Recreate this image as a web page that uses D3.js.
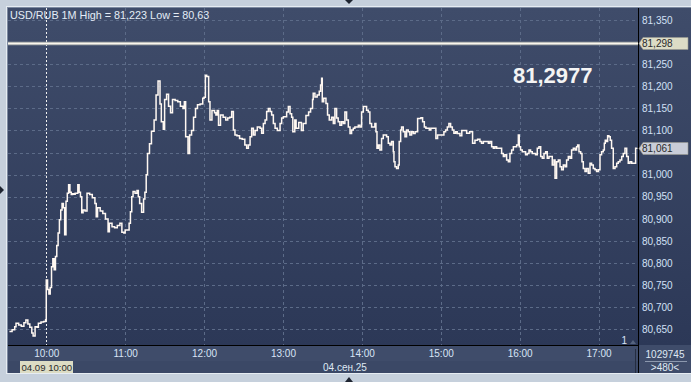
<!DOCTYPE html>
<html><head><meta charset="utf-8">
<script src="https://cdn.jsdelivr.net/npm/d3@7"></script>
<style>html,body{margin:0;padding:0;background:#c6d0dc;}svg{display:block;font-family:"Liberation Sans",Arial,sans-serif;}</style>
</head><body>
<svg id="c" width="691" height="382"></svg>
<script>
// ---- data (minutes relative to 10:00, 04.09.2025) ----
const minutes = [-28,-26,-24,-23,-21,-19,-17,-15.5,-14,-12.5,-11,-10,-8.5,-7,-6,-4,-2,-0.5,0,1,2,3,4,5,6,7,8,9,10,11,12,13,14,15,16,17,18,19,20,21,22,24,25,26,27,28,29.5,31,33,35,37,38,39,41,43,45,47,48,50,52,54,56,57.5,59,60,62,63,64,65,66,67.5,69,70,71,72.5,74,75,76,77,78.5,80,82,83.5,85,86.5,87.5,89,90,91.5,93,94.5,96,98,100,102,104,105,106,107.8,109,110.5,112,113.5,115,117,119,120,121,122,123.5,124.5,126,128,129,130,131,132.5,134.5,136.5,138,139.5,141,142.3,143.5,145,147,149,151,152.4,153.7,155,156.2,157.5,158.8,160.5,162.6,163.8,165.1,166.4,167.6,168.9,170.2,171.4,172.7,174,175.7,177.8,179,180.3,181.6,182.8,184.1,185.4,186.6,187.5,189,190,192,194,195.4,197.5,199.5,201,202.5,203,204.3,206,207.6,208.6,209.4,209.9,211,212.7,213.9,215.2,217,218.3,219.5,220.8,222,223.3,224.6,225.9,227.1,228.4,229.7,231,232.2,233.5,234.7,236,237.3,238.5,239.8,241.1,242.3,243.6,244.9,246.1,247.4,248.7,249.9,250.7,251.5,252.5,253.7,255,256.3,257.5,258.8,260.1,261.4,262.6,263.9,264.4,265.2,266.4,267.7,268.4,269.5,270.2,271.5,272.8,274,275.3,276.5,277.8,279.1,280.5,282.4,283.7,284.9,286.2,287.5,288.7,290,291.3,292.5,293.8,295,296.3,297.6,302.4,303.7,305,306.2,307.5,308.8,310,311.3,312.5,314.6,316,319.7,322,324.2,326,328,329.8,331,332.4,333.6,334.9,336.2,337.4,338.7,340,341.2,342.5,343.8,346.3,347.6,348.8,350.1,351.4,352.6,353.9,355.2,356.4,357.7,359,359.7,360.7,362,363.3,364.5,365.8,367.1,368.3,369.6,370.9,372.1,373.4,374.7,376,377.2,378.5,379.8,381,382.3,383.6,384.8,386.1,386.9,388.1,389.4,390.7,391.9,393.2,394.5,395.7,397,398.3,399.5,400.8,402.1,403.3,404.1,405.1,406.4,407.4,408.4,409.7,410.9,412.2,413.5,414.7,416,417.3,418.5,419.8,421.1,422.3,423.6,424.4,425.1,426.1,426.9,427.9,428.9,429.9,431.2,432.5,433.8,435,436.3,437.6,438.8,440.1,441.4,442.6,443.9,445.2,446.4,447.7,448.2,449];
const prices = [80.645,80.649,80.656,80.664,80.660,80.657,80.665,80.671,80.662,80.655,80.642,80.635,80.656,80.655,80.664,80.667,80.668,80.672,80.762,80.740,80.730,80.745,80.792,80.810,80.785,80.815,80.840,80.868,80.898,80.920,80.935,80.925,80.864,80.940,80.958,80.977,80.960,80.955,80.957,80.956,80.958,80.977,80.960,80.950,80.914,80.920,80.918,80.958,80.955,80.948,80.935,80.905,80.925,80.918,80.912,80.900,80.871,80.890,80.882,80.880,80.885,80.890,80.870,80.868,80.875,80.875,80.890,80.916,80.950,80.962,80.958,80.964,80.950,80.935,80.915,80.945,80.960,81.000,81.048,81.070,81.098,81.124,81.180,81.212,81.160,81.120,81.103,81.170,81.182,81.155,81.140,81.170,81.168,81.165,81.155,81.150,81.165,81.086,81.048,81.090,81.100,81.130,81.150,81.158,81.160,81.173,81.175,81.225,81.222,81.165,81.124,81.145,81.140,81.135,81.145,81.112,81.135,81.130,81.124,81.128,81.130,81.143,81.101,81.090,81.088,81.082,81.080,81.067,81.060,81.067,81.086,81.105,81.090,81.100,81.108,81.105,81.094,81.116,81.124,81.143,81.150,81.143,81.135,81.116,81.105,81.100,81.116,81.128,81.131,81.131,81.142,81.154,81.138,81.130,81.097,81.124,81.105,81.118,81.100,81.116,81.134,81.142,81.150,81.170,81.184,81.176,81.180,81.189,81.203,81.218,81.165,81.173,81.161,81.135,81.124,81.130,81.116,81.150,81.128,81.120,81.112,81.120,81.116,81.142,81.124,81.108,81.093,81.101,81.105,81.108,81.108,81.112,81.108,81.142,81.154,81.154,81.146,81.142,81.116,81.108,81.108,81.116,81.097,81.060,81.067,81.056,81.082,81.090,81.090,81.086,81.071,81.067,81.075,81.052,81.029,81.018,81.014,81.022,81.075,81.101,81.108,81.097,81.086,81.101,81.097,81.090,81.097,81.093,81.097,81.127,81.127,81.129,81.120,81.108,81.105,81.105,81.101,81.105,81.105,81.105,81.082,81.090,81.097,81.101,81.108,81.116,81.108,81.101,81.094,81.097,81.093,81.088,81.100,81.094,81.097,81.071,81.078,81.080,81.075,81.071,81.075,81.075,81.075,81.071,81.075,81.063,81.060,81.063,81.060,81.060,81.048,81.041,81.045,81.033,81.029,81.048,81.056,81.063,81.063,81.067,81.090,81.063,81.056,81.052,81.052,81.045,81.048,81.056,81.052,81.048,81.048,81.045,81.060,81.063,81.041,81.037,81.048,81.052,81.037,81.041,81.041,81.022,81.033,80.992,81.029,81.033,81.018,81.011,81.022,81.018,81.033,81.041,81.037,81.056,81.060,81.056,81.063,81.067,81.052,81.048,81.029,81.014,81.007,81.014,81.003,81.026,81.022,81.014,81.011,81.007,81.011,81.045,81.052,81.056,81.071,81.078,81.075,81.088,81.086,81.078,81.060,81.014,81.018,81.026,81.029,81.033,81.041,81.048,81.060,81.041,81.026,81.029,81.026,81.026,81.026,81.060,81.061];
const yTicks = [80.65,80.70,80.75,80.80,80.85,80.90,80.95,81.00,81.05,81.10,81.15,81.20,81.25,81.30,81.35];
const xTicks = [0,60,120,180,240,300,360,420];
const xTickLabels = ["10:00","11:00","12:00","13:00","14:00","15:00","16:00","17:00"];
const titleText = "USD/RUB 1M High = 81,223 Low = 80,63";
const levelPrice = 81.298;
const lastPrice = 81.061;
const bigPrice = "81,2977";
const dateLabel = "04.сен.25";
const cursorLabel = "04.09 10:00";
const volumeText = "1029745";
const periodText = ">480<";

// ---- drawing ----
const svg = d3.select("#c");
const L = 8, R = 638, T = 8, B = 345;
const x = d3.scaleLinear().domain([-29.1, 450]).range([L, R]);
const y = d3.scaleLinear().domain([80.6147, 81.3771]).range([B, T]);
const loc = d3.formatLocale({decimal: ",", thousands: " ", grouping: [3], currency: ["", ""]});
const f3 = loc.format(".3f");

const defs = svg.append("defs");
const g1 = defs.append("linearGradient").attr("id", "bg").attr("x1", 0).attr("y1", 0).attr("x2", 0).attr("y2", 1);
g1.append("stop").attr("offset", "0%").attr("stop-color", "#3f4c6a");
g1.append("stop").attr("offset", "100%").attr("stop-color", "#2c3857");
defs.append("clipPath").attr("id", "clip").append("rect").attr("x", L).attr("y", T).attr("width", R - L).attr("height", B - T);

// outer frame
svg.append("rect").attr("x", 0).attr("y", 0).attr("width", 691).attr("height", 382).attr("fill", "#c6d0dc");
svg.append("rect").attr("x", 6.5).attr("y", 6.5).attr("width", 685).attr("height", 367).attr("fill", "none").attr("stroke", "#e6ecf2");
svg.append("rect").attr("x", L - 1).attr("y", T - 1).attr("width", 691 - L + 1).attr("height", 373 - T + 1).attr("fill", "#7d8aa0");
// plot & right axis background
svg.append("rect").attr("x", L).attr("y", T).attr("width", 691 - L).attr("height", B - T).attr("fill", "url(#bg)");
// bottom axis panel
svg.append("rect").attr("x", L).attr("y", B).attr("width", 691 - L).attr("height", 373 - B).attr("fill", "#3f4c6a");
svg.append("rect").attr("x", L).attr("y", 361).attr("width", R - L).attr("height", 12).attr("fill", "#3b4866");

// grid
const grid = svg.append("g").attr("clip-path", "url(#clip)");
grid.selectAll("line.h").data(yTicks).join("line")
  .attr("x1", L).attr("x2", R).attr("y1", d => Math.round(y(d)) + 0.5).attr("y2", d => Math.round(y(d)) + 0.5)
  .attr("stroke", "#5c6b88").attr("stroke-dasharray", "3,3");
grid.selectAll("line.v").data(xTicks.slice(1)).join("line")
  .attr("y1", T).attr("y2", B).attr("x1", d => Math.round(x(d)) + 0.5).attr("x2", d => Math.round(x(d)) + 0.5)
  .attr("stroke", "#5c6b88").attr("stroke-dasharray", "3,3");
// cursor line at 10:00
grid.append("line").attr("y1", T).attr("y2", B).attr("x1", Math.round(x(0)) + 0.5).attr("x2", Math.round(x(0)) + 0.5)
  .attr("stroke", "#f0f0f0").attr("stroke-dasharray", "2,2");

// level line
const ly = Math.round(y(levelPrice));
grid.append("line").attr("x1", L).attr("x2", R).attr("y1", ly + 0.5).attr("y2", ly + 0.5).attr("stroke", "#a9acab").attr("stroke-width", 3.5);
grid.append("line").attr("x1", L).attr("x2", R).attr("y1", ly + 0.5).attr("y2", ly + 0.5).attr("stroke", "#faf6ee").attr("stroke-width", 1.6);

// price line
const pts = minutes.map((m, i) => [m, prices[i]]);
grid.append("path").datum(pts)
  .attr("d", d3.line().x(d => x(d[0])).y(d => y(d[1])).curve(d3.curveStepAfter))
  .attr("fill", "none").attr("stroke", "#fff8f2").attr("stroke-width", 1.5);

// axes lines
svg.append("line").attr("x1", L).attr("x2", R).attr("y1", B + 0.5).attr("y2", B + 0.5).attr("stroke", "#000");
svg.append("line").attr("x1", R + 0.5).attr("x2", R + 0.5).attr("y1", T).attr("y2", 373).attr("stroke", "#000");
svg.append("line").attr("x1", 635.5).attr("x2", 635.5).attr("y1", 349).attr("y2", 373).attr("stroke", "#252d40");

// y axis (labels hidden behind price boxes are not drawn)
const boxed = [levelPrice, lastPrice];
const visibleY = yTicks.filter(t => boxed.every(b => Math.abs(y(t) - y(b)) > 9));
const yAxis = d3.axisRight(y).tickValues(visibleY).tickSize(0).tickPadding(4).tickFormat(f3);
const ya = svg.append("g").attr("transform", `translate(${R},0)`).call(yAxis);
ya.select(".domain").remove();
ya.selectAll("text").attr("fill", "#d2e0f6").attr("font-size", "10px").attr("font-family", "Liberation Sans, Arial, sans-serif");

// x axis
const xAxis = d3.axisBottom(x).tickValues(xTicks).tickSize(0).tickPadding(5).tickFormat((d, i) => xTickLabels[i]);
const xa = svg.append("g").attr("transform", `translate(0,${B})`).call(xAxis);
xa.select(".domain").remove();
xa.selectAll("text").attr("fill", "#d8e4f6").attr("font-size", "10px").attr("font-family", "Liberation Sans, Arial, sans-serif");

// title
svg.append("text").attr("x", 10).attr("y", 19).attr("fill", "#e4ecf6").attr("font-size", "10.8px").text(titleText);

// big price
svg.append("text").attr("x", 513).attr("y", 83).attr("fill", "#f4f4f4").attr("font-size", "22px").attr("font-weight", "bold").text(bigPrice);

// price boxes
function priceBox(v, bg) {
  const cy = Math.round(y(v)) + 0.5;
  const g = svg.append("g");
  g.append("path").attr("d", `M${R + 1},${cy} L${R + 5},${cy - 6} L688,${cy - 6} L688,${cy + 6} L${R + 5},${cy + 6} Z`)
    .attr("fill", bg).attr("stroke", "#9a9a90").attr("stroke-width", 0.6);
  g.append("text").attr("x", 642).attr("y", cy + 3.8).attr("fill", "#2a2a2a").attr("font-size", "10px").text(f3(v));
}
priceBox(levelPrice, "#dcdcc6");
priceBox(lastPrice, "#c9cdd8");

// bottom labels
svg.append("rect").attr("x", 20).attr("y", 361).attr("width", 53).attr("height", 12).attr("fill", "#dcdcc4");
svg.append("text").attr("x", 21.5).attr("y", 371).attr("fill", "#2a2a2a").attr("font-size", "9.6px").text(cursorLabel);
svg.append("text").attr("x", 323).attr("y", 371).attr("fill", "#dfe8f4").attr("font-size", "10px").text(dateLabel);
svg.append("text").attr("x", 627).attr("y", 344).attr("fill", "#d8e4f6").attr("font-size", "10px").attr("text-anchor", "end").text("1");
svg.append("path").attr("d", "M630,344 L633,340 L636,344 Z").attr("fill", "#55637e");

// right bottom box
svg.append("text").attr("x", 665).attr("y", 358).attr("fill", "#dfe8f4").attr("font-size", "10px").attr("text-anchor", "middle").text(volumeText);
svg.append("line").attr("x1", 645).attr("x2", 687).attr("y1", 361.5).attr("y2", 361.5).attr("stroke", "#8c98ae");
svg.append("text").attr("x", 665).attr("y", 371).attr("fill", "#dfe8f4").attr("font-size", "10px").attr("text-anchor", "middle").text(periodText);

// frame markers
svg.append("path").attr("d", "M345,0 L353,0 L349,4 Z").attr("fill", "#1e2430");
svg.append("path").attr("d", "M345,382 L353,382 L349,377 Z").attr("fill", "#1e2430");
svg.append("path").attr("d", "M0,186 L0,194 L4,190 Z").attr("fill", "#1e2430");
</script>
</body></html>
